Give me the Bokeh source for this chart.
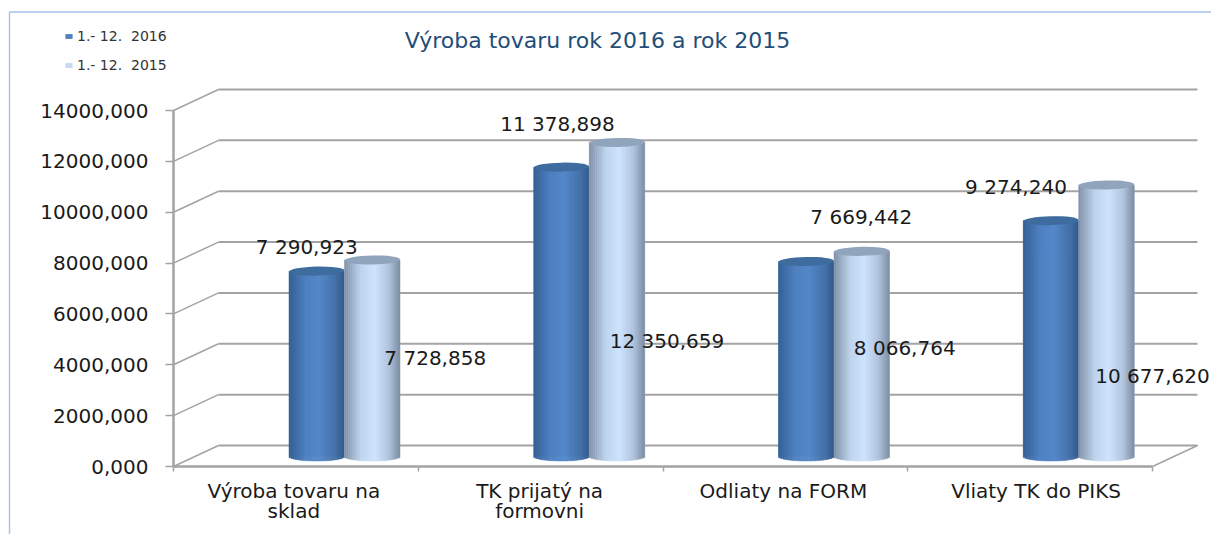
from bokeh.plotting import figure
from bokeh.models import LinearAxis, FixedTicker, Legend, LegendItem, Range1d, ColumnDataSource, Label
from bokeh.core.properties import value
from bokeh.embed import file_html
from bokeh.resources import INLINE
import math

title_text = "Výroba tovaru rok 2016 a   rok 2015"
categories = ["Výroba tovaru na\nsklad", "TK prijatý na\nformovni", "Odliaty na FORM", "Vliaty TK do PIKS"]
series_names = ["1.- 12.  2016", "1.- 12.  2015"]
values_2016 = [7290.923, 11378.898, 7669.442, 9274.240]
values_2015 = [7728.858, 12350.659, 8066.764, 10677.620]
labels_2016 = ["7 290,923", "11 378,898", "7 669,442", "9 274,240"]
labels_2015 = ["7 728,858", "12 350,659", "8 066,764", "10 677,620"]
y_ticks = [0, 2000, 4000, 6000, 8000, 10000, 12000, 14000]
y_tick_labels = ["0,000", "2000,000", "4000,000", "6000,000", "8000,000", "10000,000", "12000,000", "14000,000"]

# layout (page pixels)
W, H = 1211, 534
X0, UX = 173.0, 244.75
Y0, Y14 = 466.0, 110.0
PY = (Y0 - Y14) / 14000.0
DX = 45 / UX
DY = 21 / PY
BASE = 10 / PY
BAR_C = 171 / UX
BAR_W = 55.5 / UX
CAP = 9.0
FONT = "DejaVu Sans"
GREY = "#a3a3a3"
INK = "#1a1a1a"

def fx(px):
    return (px - X0) / UX

def fy(py):
    return (Y0 - py) / PY

p = figure(width=W, height=H, output_backend="svg", toolbar_location=None,
           x_axis_location=None, y_axis_location=None,
           x_range=Range1d(fx(0), fx(W)), y_range=Range1d(fy(H), fy(0)),
           min_border_left=0, min_border_right=0, min_border_top=0, min_border_bottom=0)
p.grid.visible = False
p.outline_line_color = None
p.background_fill_color = "white"

# page frame line
p.line([fx(W), fx(9), fx(9)], [fy(11.5), fy(11.5), fy(H)], line_color="#a9c4ec", line_width=1.5)

p.add_layout(Label(x=fx(604), y=fy(40), text=title_text, text_align="center", text_baseline="middle",
                   text_font=FONT, text_font_size="22px", text_color="#1f4e79"))

# walls
nc = len(categories)
for t in y_ticks:
    p.line([DX, nc + DX], [t + DY, t + DY], line_color=GREY, line_width=2)
    p.line([0, DX], [t, t + DY], line_color=GREY, line_width=1.5)
p.line([nc, nc + DX], [0, DY], line_color=GREY, line_width=1.5)

# cylinders
def mix(a, b, t):
    return "#%02x%02x%02x" % tuple(round(a[i] + (b[i] - a[i]) * t) for i in range(3))

def shade(stops, t):
    for (t0, c0), (t1, c1) in zip(stops, stops[1:]):
        if t <= t1:
            return mix(c0, c1, (t - t0) / (t1 - t0))
    return mix(stops[-1][1], stops[-1][1], 0)

DARK = [(0, (52, 96, 148)), (0.3, (78, 128, 192)), (0.55, (84, 136, 202)), (0.85, (68, 112, 168)), (1, (48, 90, 138))]
LIGHT = [(0, (128, 144, 166)), (0.3, (190, 212, 238)), (0.55, (206, 227, 254)), (0.8, (176, 196, 222)), (1, (124, 140, 160))]
N = 28
cap_dep = (CAP / 2) / PY

def cylinders(vals, offset, stops, base_col, cap_col):
    xc = [i + BAR_C + offset for i in range(nc)]
    base = p.quad(left=[x - BAR_W / 2 for x in xc], right=[x + BAR_W / 2 for x in xc],
                  bottom=[BASE] * nc, top=[v + BASE for v in vals],
                  fill_color=base_col, line_color=None)
    L, R, B, T, C = [], [], [], [], []
    for x, v in zip(xc, vals):
        for k in range(N):
            t = (k + 0.5) / N
            L.append(x - BAR_W / 2 + k * BAR_W / N)
            R.append(x - BAR_W / 2 + (k + 1) * BAR_W / N)
            B.append(BASE - cap_dep * math.sqrt(max(0, 1 - (2 * t - 1) ** 2)))
            T.append(v + BASE)
            C.append(shade(stops, t))
    src = ColumnDataSource(dict(l=L, r=R, b=B, t=T, c=C))
    p.quad(left="l", right="r", bottom="b", top="t", fill_color="c", line_color="c", line_width=0.5, source=src)
    p.ellipse(x=xc, y=[v + BASE for v in vals], width=BAR_W, height=CAP, width_units="data", height_units="screen",
              fill_color=cap_col, line_color=None, angle=0.02)
    return base, xc

r16, xc16 = cylinders(values_2016, -BAR_W / 2, DARK, "#4f81bd", "#3f6c9f")
r15, xc15 = cylinders(values_2015, BAR_W / 2, LIGHT, "#c6d9f1", "#90a4bc")

# value labels
lab = dict(text_font=value(FONT), text_font_size="20px", text_color=INK, text_align="center", text_baseline="middle")
p.text(x=xc16, y=[v + BASE for v in values_2016], text=labels_2016,
       x_offset=[-10, -4, 55, -35], y_offset=[-24, -43, -44, -34], **lab)
p.text(x=xc15, y=[v + BASE for v in values_2015], text=labels_2015,
       x_offset=[63, 50, 43, 46], y_offset=[98, 199, 97, 191], **lab)

# axes
yax = LinearAxis(fixed_location=0, bounds=(0, 14000), ticker=FixedTicker(ticks=y_ticks),
                 major_label_overrides=dict(zip(y_ticks, y_tick_labels)),
                 major_tick_out=8, major_tick_in=0, minor_tick_out=0, minor_tick_in=0,
                 major_tick_line_color=GREY, major_tick_line_width=1.5,
                 axis_line_color=GREY, axis_line_width=2.5, major_label_standoff=17,
                 major_label_text_font=FONT, major_label_text_font_size="20px", major_label_text_color=INK)
p.add_layout(yax, "left")

xax = LinearAxis(fixed_location=0, bounds=(0, nc),
                 ticker=FixedTicker(ticks=[], minor_ticks=list(range(nc + 1))),
                 minor_tick_out=5, minor_tick_in=0, minor_tick_line_color=GREY, minor_tick_line_width=1.5,
                 axis_line_color=GREY, axis_line_width=2.5)
p.add_layout(xax, "below")

# category labels, one text per line to hold the tight leading
LAB_DX = [-2, -1, -2, 6]
for i, cat in enumerate(categories):
    rows = cat.split("\n")
    p.text(x=[i + 0.5] * len(rows), y=[0] * len(rows), text=rows, x_offset=[LAB_DX[i]] * len(rows),
           y_offset=[24 + 20 * k for k in range(len(rows))],
           text_font=value(FONT), text_font_size="20px", text_color=INK, text_align="center",
           text_baseline="middle")

# legend
leg = Legend(items=[LegendItem(label=series_names[0], renderers=[r16], index=0),
                    LegendItem(label=series_names[1], renderers=[r15], index=0)],
             location=(64, 461), orientation="vertical", background_fill_alpha=0, border_line_color=None,
             glyph_width=9, glyph_height=6, label_standoff=4, spacing=13, padding=0, margin=0,
             label_text_font=FONT, label_text_font_size="14px", label_text_color="#333333", label_height=15)
p.add_layout(leg)

open("out.html", "w").write(file_html(p, INLINE))
